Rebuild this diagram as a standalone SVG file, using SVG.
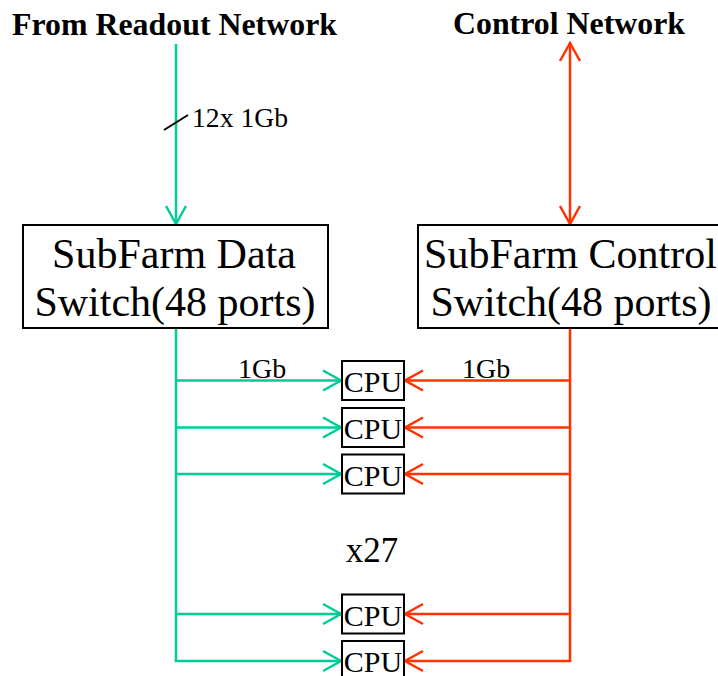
<svg xmlns="http://www.w3.org/2000/svg" width="718" height="676" viewBox="0 0 718 676">
  <style>
    .title { font-family: "Liberation Serif", "Times New Roman", serif; font-weight: bold; font-size: 32px; fill: #000; }
    .label { font-family: "Liberation Serif", "Times New Roman", serif; font-size: 28px; fill: #000; }
    .sw { font-family: "Liberation Serif", "Times New Roman", serif; font-size: 42px; fill: #000; text-anchor: middle; }
    .cpu { font-family: "Liberation Serif", "Times New Roman", serif; font-size: 30px; fill: #000; text-anchor: middle; }
    .box { fill: #fff; stroke: #000; stroke-width: 2; }
    .data { fill: none; stroke: #00cc99; stroke-width: 2.5; }
    .ctrl { fill: none; stroke: #ff3300; stroke-width: 2.5; }
    .tick { stroke: #000; stroke-width: 2; }
  </style>
  <defs>
    <marker id="arrowData" viewBox="-21 -12 24 24" refX="0" refY="0" markerWidth="24" markerHeight="24" markerUnits="userSpaceOnUse" orient="auto-start-reverse">
      <path d="M-18,-10 L0,0 L-18,10" fill="none" stroke="#00cc99" stroke-width="2.5"/>
    </marker>
    <marker id="arrowCtrl" viewBox="-21 -12 24 24" refX="0" refY="0" markerWidth="24" markerHeight="24" markerUnits="userSpaceOnUse" orient="auto-start-reverse">
      <path d="M-18,-10 L0,0 L-18,10" fill="none" stroke="#ff3300" stroke-width="2.5"/>
    </marker>
  </defs>

  <rect width="718" height="676" fill="#fff"/>

  <!-- connectors -->
  <g id="connectors">
    <!-- readout network into the data switch -->
    <line class="data" x1="176" y1="44" x2="176" y2="224" marker-end="url(#arrowData)"/>
    <line class="tick" x1="164" y1="130" x2="188" y2="115"/>
    <!-- control network <-> control switch -->
    <line class="ctrl" x1="570" y1="43" x2="570" y2="224" marker-start="url(#arrowCtrl)" marker-end="url(#arrowCtrl)"/>

    <!-- data switch fan-out -->
    <path class="data" d="M176,328 V661"/>
    <line class="data" x1="176" y1="380.5" x2="341" y2="380.5" marker-end="url(#arrowData)"/>
    <line class="data" x1="176" y1="427.5" x2="341" y2="427.5" marker-end="url(#arrowData)"/>
    <line class="data" x1="176" y1="474" x2="341" y2="474" marker-end="url(#arrowData)"/>
    <line class="data" x1="176" y1="614" x2="341" y2="614" marker-end="url(#arrowData)"/>
    <line class="data" x1="174.75" y1="661" x2="341" y2="661" marker-end="url(#arrowData)"/>

    <!-- control switch fan-out -->
    <path class="ctrl" d="M570,328 V661"/>
    <line class="ctrl" x1="570" y1="380.5" x2="405" y2="380.5" marker-end="url(#arrowCtrl)"/>
    <line class="ctrl" x1="570" y1="427.5" x2="405" y2="427.5" marker-end="url(#arrowCtrl)"/>
    <line class="ctrl" x1="570" y1="474" x2="405" y2="474" marker-end="url(#arrowCtrl)"/>
    <line class="ctrl" x1="570" y1="614" x2="405" y2="614" marker-end="url(#arrowCtrl)"/>
    <line class="ctrl" x1="571.25" y1="661" x2="405" y2="661" marker-end="url(#arrowCtrl)"/>

    <text class="label" x="192" y="127" textLength="96" lengthAdjust="spacingAndGlyphs">12x 1Gb</text>
    <text class="label" x="238" y="378">1Gb</text>
    <text class="label" x="462" y="378">1Gb</text>
  </g>

  <!-- network labels -->
  <g id="readout-network">
    <text class="title" x="12" y="35" textLength="325" lengthAdjust="spacingAndGlyphs">From Readout Network</text>
  </g>
  <g id="control-network">
    <text class="title" x="453" y="34" textLength="232" lengthAdjust="spacingAndGlyphs">Control Network</text>
  </g>

  <!-- switches -->
  <g id="data-switch">
    <rect class="box" x="23" y="225" width="305" height="103"/>
    <text class="sw" x="174" y="268">SubFarm Data</text>
    <text class="sw" x="175" y="316">Switch(48 ports)</text>
  </g>
  <g id="control-switch">
    <rect class="box" x="418" y="225" width="305" height="103"/>
    <text class="sw" x="570.5" y="268">SubFarm Control</text>
    <text class="sw" x="571" y="316">Switch(48 ports)</text>
  </g>

  <!-- farm nodes -->
  <g id="cpu-1">
    <rect class="box" x="342" y="361" width="62" height="39"/>
    <text class="cpu" x="373" y="392">CPU</text>
  </g>
  <g id="cpu-2">
    <rect class="box" x="342" y="408" width="62" height="39"/>
    <text class="cpu" x="373" y="439">CPU</text>
  </g>
  <g id="cpu-3">
    <rect class="box" x="342" y="454.5" width="62" height="39"/>
    <text class="cpu" x="373" y="485.5">CPU</text>
  </g>
  <g id="multiplicity">
    <text class="cpu" x="372" y="562" style="font-size:35px">x27</text>
  </g>
  <g id="cpu-4">
    <rect class="box" x="342" y="594.5" width="62" height="39"/>
    <text class="cpu" x="373" y="625.5">CPU</text>
  </g>
  <g id="cpu-5">
    <rect class="box" x="342" y="641" width="62" height="39"/>
    <text class="cpu" x="373" y="672">CPU</text>
  </g>
</svg>
